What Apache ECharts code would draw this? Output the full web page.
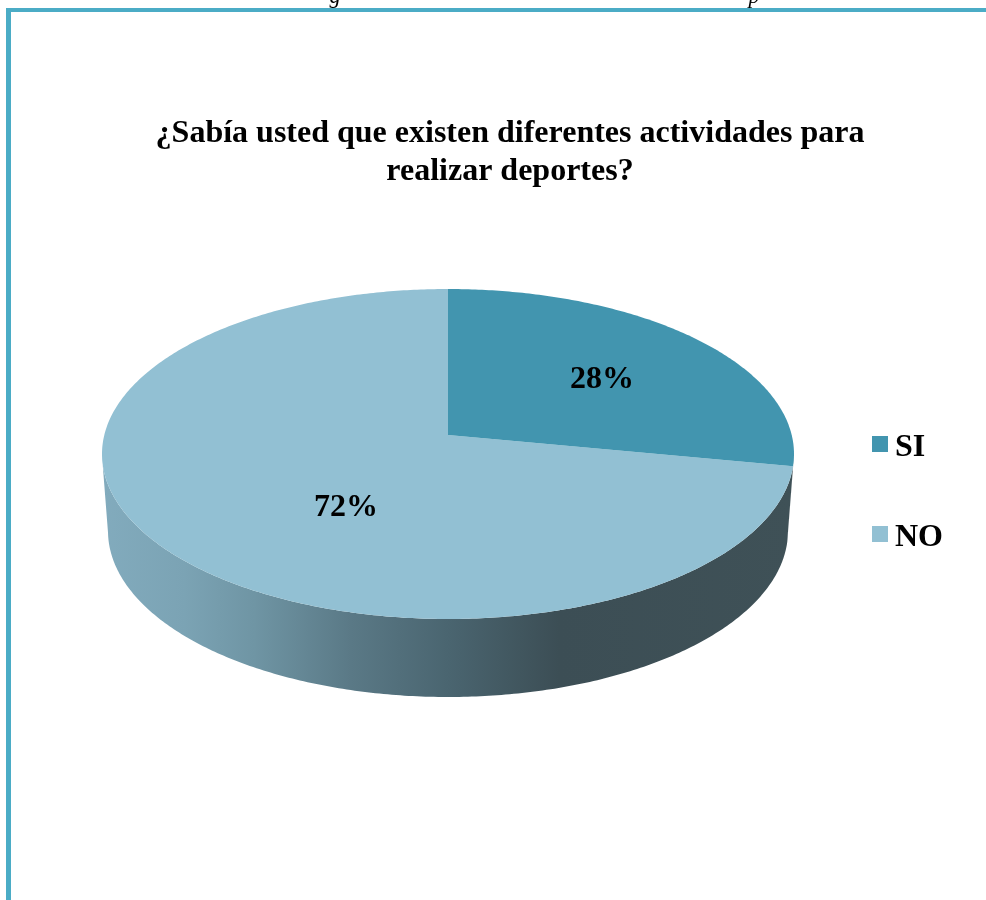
<!DOCTYPE html>
<html>
<head>
<meta charset="utf-8">
<style>html,body{margin:0;padding:0;background:#fff}#chart{width:986px;height:900px}</style>
<script src="https://cdn.jsdelivr.net/npm/echarts@6/dist/echarts.min.js"></script>
</head>
<body>
<div id="chart"></div>
<script>
// Survey answers, in percent
const categories = ['SI', 'NO'];
const values = [28, 72];
const sliceColors = ['#4295AF', '#92C0D3'];
const chartTitle = '¿Sabía usted que existen diferentes actividades para\nrealizar deportes?';

// Tilted-disc geometry
const topRim = { cx: 448, cy: 454, rx: 346, ry: 165 };
const bottomRim = { cx: 448, cy: 531, rx: 340, ry: 166 };
const perspective = -0.115;           // shifts the disc centre towards the far edge
const labelAnchors = [[0.445, -0.448], [-0.295, 0.327]]; // label centre, as a fraction of the rim radii

const total = values.reduce((a, b) => a + b, 0);
const serif = '"Liberation Serif", "Times New Roman", serif';

// Project an angle (clockwise from 12 o'clock) and radius onto the unit rim
function project(theta, r) {
  const u = Math.sin(theta) * r, v = -Math.cos(theta) * r, a = perspective;
  const d = 1 + a * v;
  return [u * Math.sqrt(1 - a * a) / d, (v + a) / d];
}
const onRim = (rim, p) => [rim.cx + rim.rx * p[0], rim.cy + rim.ry * p[1]];

const wallFill = new echarts.graphic.LinearGradient(102, 0, 794, 0, [
  { offset: 0, color: '#82ABBD' },
  { offset: 0.12, color: '#7BA3B4' },
  { offset: 0.22, color: '#6F95A4' },
  { offset: 0.36, color: '#5A7986' },
  { offset: 0.5, color: '#4A6570' },
  { offset: 0.66, color: '#3C4E55' },
  { offset: 1, color: '#3F5157' }
], true);

function renderSlice(index) {
  return function (params, api) {
    const value = api.value(0);
    const before = values.slice(0, index).reduce((a, b) => a + b, 0);
    const start = before / total * Math.PI * 2;
    const end = (before + value) / total * Math.PI * 2;
    const steps = Math.ceil((end - start) * 90);
    const rim = [];
    for (let i = 0; i <= steps; i++) {
      rim.push(project(start + (end - start) * i / steps, 1));
    }
    const front = rim.filter(p => p[1] >= 0);
    const wall = front.map(p => onRim(topRim, p))
      .concat(front.slice().reverse().map(p => onRim(bottomRim, p)));
    const top = [onRim(topRim, project(0, 0))].concat(rim.map(p => onRim(topRim, p)));
    const anchor = labelAnchors[index];
    return {
      type: 'group',
      children: [
        { type: 'polygon', shape: { points: wall }, style: { fill: wallFill }, z2: 1 },
        { type: 'polygon', shape: { points: top }, style: { fill: sliceColors[index] }, z2: 2 },
        {
          type: 'text', z2: 3,
          x: topRim.cx + topRim.rx * anchor[0],
          y: topRim.cy + topRim.ry * anchor[1],
          style: {
            text: value + '%', fill: '#000', align: 'center', verticalAlign: 'middle',
            font: 'bold 32px ' + serif
          }
        }
      ]
    };
  };
}

const chart = echarts.init(document.getElementById('chart'), null, { renderer: 'canvas' });
chart.setOption({
  animation: false,
  backgroundColor: '#fff',
  title: {
    text: chartTitle,
    left: 505, top: 110,
    textAlign: 'center',
    textStyle: { fontFamily: serif, fontWeight: 'bold', fontSize: 32, lineHeight: 38, color: '#000' }
  },
  legend: {
    orient: 'vertical',
    left: 867, top: 427,
    itemWidth: 16, itemHeight: 16, itemGap: 58,
    icon: 'rect',
    data: categories,
    formatter: name => '{t|' + name + '}',
    textStyle: {
      rich: {
        t: { fontFamily: serif, fontWeight: 'bold', fontSize: 32, color: '#000', padding: [8, 0, 0, 2] }
      }
    }
  },
  graphic: [
    // Page frame: top and left rules
    { type: 'rect', shape: { x: 6, y: 8, width: 980, height: 4 }, style: { fill: '#4BACC6' } },
    { type: 'rect', shape: { x: 6, y: 8, width: 5, height: 892 }, style: { fill: '#4BACC6' } },
    // Descenders of the caption line cut off above the frame
    { type: 'text', x: 335, y: 8, style: { text: 'g', font: 'italic 22px ' + serif, fill: '#000', align: 'center', verticalAlign: 'bottom' } },
    { type: 'text', x: 754, y: 8, style: { text: 'p', font: 'italic 22px ' + serif, fill: '#000', align: 'center', verticalAlign: 'bottom' } }
  ],
  series: categories.map((name, i) => ({
    type: 'custom',
    name: name,
    coordinateSystem: 'none',
    silent: true,
    itemStyle: { color: sliceColors[i] },
    data: [[values[i]]],
    z: i === 0 ? 3 : 2,
    renderItem: renderSlice(i)
  }))
});
</script>
</body>
</html>
